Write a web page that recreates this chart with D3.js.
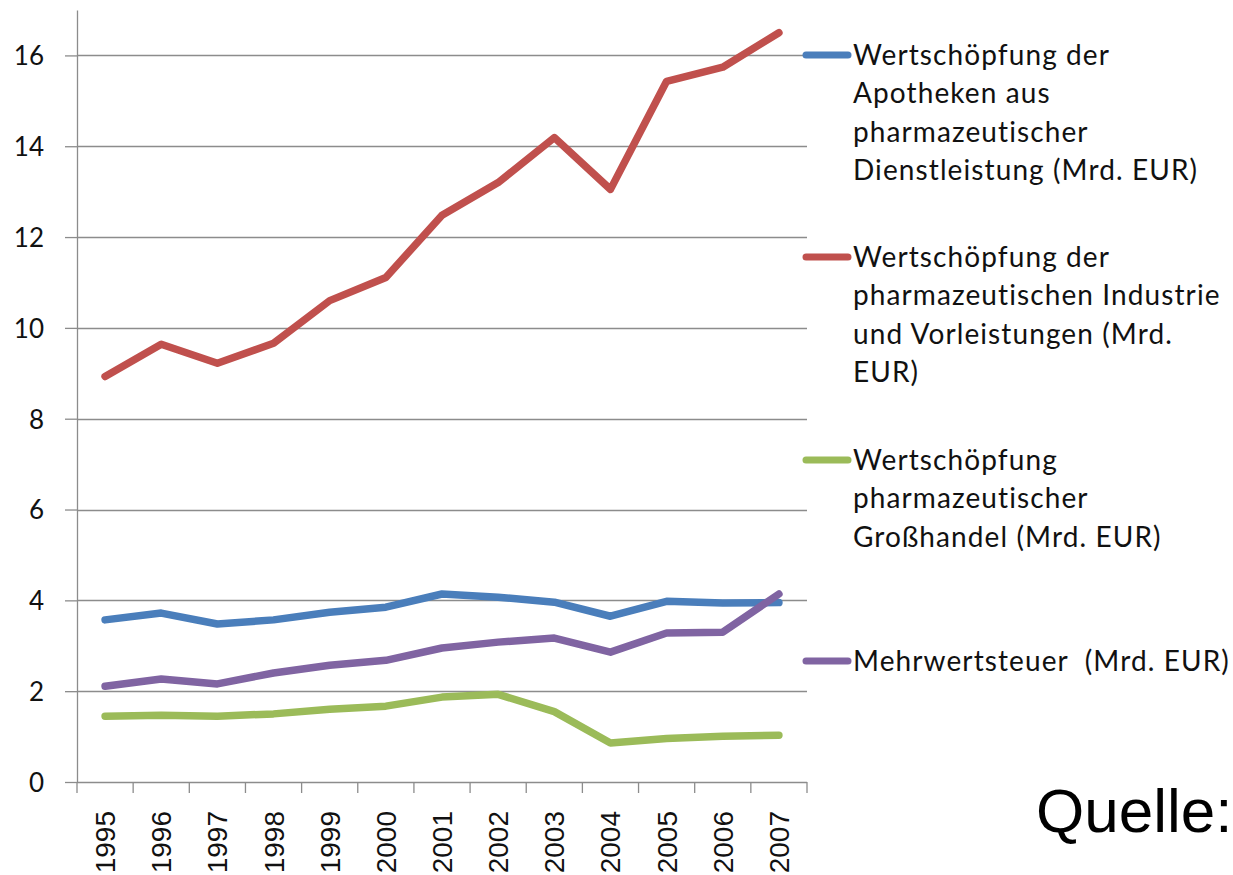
<!DOCTYPE html>
<html>
<head lang="de">
    <meta charset="UTF-8">
    <title>Wertschöpfung Arzneimittel</title>
    <style>
        body { margin: 0; background: #fff; }
        .grid line { stroke: #8c8c8c; stroke-width: 1.3; }
        .yaxis text { font-family: Lato, "Open Sans", sans-serif; font-size: 26px; fill: #111; }
        .xaxis text { font-family: "Liberation Sans", Arial, sans-serif; font-size: 28px; fill: #111; }
        .legend text { font-family: Lato, "Open Sans", sans-serif; font-size: 28px; letter-spacing: 1.1px; fill: #111; white-space: pre; }
        .series { fill: none; stroke-width: 7.5; stroke-linecap: round; stroke-linejoin: round; }
    </style>
</head>
<body>
<svg width="1233" height="875"></svg>

<script src="https://cdn.jsdelivr.net/npm/d3@7"></script>
<script>
    var years = ["1995","1996","1997","1998","1999","2000","2001","2002","2003","2004","2005","2006","2007"];
    var apotheken  = [3.57, 3.72, 3.48, 3.57, 3.74, 3.85, 4.14, 4.07, 3.96, 3.65, 3.98, 3.94, 3.95];
    var industrie  = [8.93, 9.64, 9.22, 9.66, 10.6, 11.11, 12.48, 13.2, 14.19, 13.05, 15.43, 15.74, 16.5];
    var grosshandel = [1.45, 1.47, 1.45, 1.50, 1.60, 1.67, 1.87, 1.93, 1.55, 0.86, 0.96, 1.01, 1.03];
    var mwst       = [2.11, 2.27, 2.16, 2.40, 2.57, 2.68, 2.95, 3.08, 3.17, 2.86, 3.28, 3.30, 4.14];
    var yTicks = [0, 2, 4, 6, 8, 10, 12, 14, 16];

    var series = [
        {name: ["Wertschöpfung der", "Apotheken aus", "pharmazeutischer", "Dienstleistung (Mrd. EUR)"], values: apotheken, color: "#4a7ebb"},
        {name: ["Wertschöpfung der", "pharmazeutischen Industrie", "und Vorleistungen (Mrd.", "EUR)"], values: industrie, color: "#c0504d"},
        {name: ["Wertschöpfung", "pharmazeutischer", "Großhandel (Mrd. EUR)"], values: grosshandel, color: "#9bbb59"},
        {name: ["Mehrwertsteuer  (Mrd. EUR)"], values: mwst, color: "#8064a2"}
    ];

    var svg = d3.select("svg"),
        plotLeft = 77, plotRight = 807, plotTop = 10, plotBottom = 782;

    var x = d3.scaleBand().domain(years).range([plotLeft, plotRight]);
    var y = d3.scaleLinear().domain([0, 17]).range([plotBottom, plotTop]);

    // gridlines
    svg.append("g").attr("class", "grid")
        .selectAll("line").data(yTicks.filter(function (d) { return d > 0; }))
        .enter().append("line")
        .attr("x1", plotLeft).attr("x2", plotRight)
        .attr("y1", function (d) { return Math.round(y(d)) + 0.5; })
        .attr("y2", function (d) { return Math.round(y(d)) + 0.5; });

    // y axis
    var yAxis = svg.append("g").attr("class", "yaxis")
        .attr("transform", "translate(" + plotLeft + ",0)")
        .call(d3.axisLeft(y).tickValues(yTicks).tickSize(12).tickPadding(21).tickSizeOuter(0));
    yAxis.selectAll("line, path").attr("stroke", "#8c8c8c").attr("stroke-width", 1.3);
    yAxis.selectAll("text").attr("dy", "0.36em");

    // x axis: ticks at the band edges
    var edges = years.map(function (d) { return x(d); }).concat([plotRight]);
    var xg = svg.append("g").attr("class", "xaxis");
    xg.append("line").attr("x1", plotLeft).attr("x2", plotRight)
        .attr("y1", plotBottom + 0.5).attr("y2", plotBottom + 0.5)
        .attr("stroke", "#8c8c8c").attr("stroke-width", 1.3);
    xg.selectAll(".tk").data(edges).enter().append("line").attr("class", "tk")
        .attr("x1", function (d) { return d; }).attr("x2", function (d) { return d; })
        .attr("y1", plotBottom).attr("y2", plotBottom + 11)
        .attr("stroke", "#8c8c8c").attr("stroke-width", 1.3);
    xg.selectAll("text").data(years).enter().append("text")
        .attr("transform", function (d) {
            return "translate(" + (x(d) + x.bandwidth() / 2 + 10) + "," + 811 + ") rotate(-90)";
        })
        .attr("text-anchor", "end")
        .text(function (d) { return d; });

    // lines
    var line = d3.line()
        .x(function (d, i) { return x(years[i]) + x.bandwidth() / 2; })
        .y(function (d) { return y(d); });

    svg.selectAll(".series").data(series).enter().append("path")
        .attr("class", "series")
        .attr("stroke", function (d) { return d.color; })
        .attr("d", function (d) { return line(d.values); });

    // legend
    var legendY = [55, 257, 460, 661];
    var lg = svg.append("g").attr("class", "legend");
    series.forEach(function (s, i) {
        var g = lg.append("g").attr("transform", "translate(0," + legendY[i] + ")");
        g.append("line").attr("x1", 806).attr("x2", 848).attr("y1", 0).attr("y2", 0)
            .attr("stroke", s.color).attr("stroke-width", 7).attr("stroke-linecap", "round");
        g.selectAll("text").data(s.name).enter().append("text")
            .attr("x", 853)
            .attr("y", function (d, j) { return j * 38.4; })
            .attr("dy", "0.36em")
            .text(function (d) { return d; });
    });

    svg.append("text")
        .attr("x", 1036).attr("y", 832)
        .attr("font-family", "'Liberation Sans', Arial, sans-serif")
        .attr("font-size", 62)
        .attr("fill", "#000")
        .text("Quelle:");
</script>
</body>
</html>
